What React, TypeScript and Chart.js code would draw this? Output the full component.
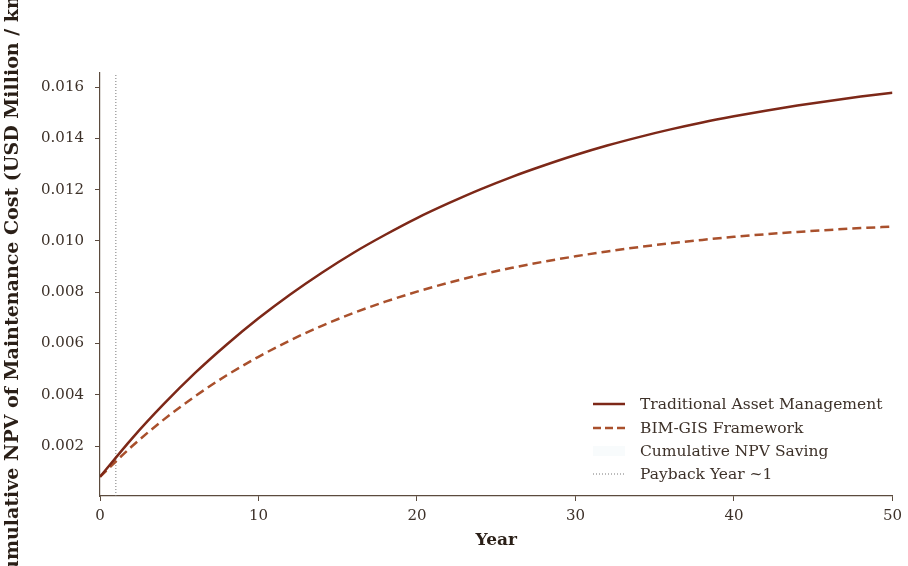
import { useEffect, useRef } from 'react';
import { Chart, registerables } from 'chart.js';

Chart.register(...registerables);

const years = [0, 2, 4, 6, 8, 10, 12, 14, 16, 18, 20, 22, 24, 26, 28, 30, 32, 34, 36, 38, 40, 42, 44, 46, 48, 50];
const traditional = [0.0008, 0.00228, 0.00362, 0.00485, 0.00596, 0.00698, 0.00791, 0.00876, 0.00954, 0.01024, 0.01089, 0.01147, 0.01201, 0.0125, 0.01294, 0.01335, 0.01372, 0.01405, 0.01435, 0.01462, 0.01486, 0.01508, 0.01528, 0.01546, 0.01563, 0.01578];
const bimGis = [0.0008, 0.00198, 0.00302, 0.00394, 0.00476, 0.00548, 0.00612, 0.00669, 0.00719, 0.00763, 0.00802, 0.00837, 0.00868, 0.00895, 0.00919, 0.0094, 0.00959, 0.00976, 0.00991, 0.01004, 0.01016, 0.01026, 0.01035, 0.01043, 0.0105, 0.01056];
const paybackYear = 1;
const yTicks = [0.002, 0.004, 0.006, 0.008, 0.01, 0.012, 0.014, 0.016];
const xTicks = [0, 10, 20, 30, 40, 50];
const Y_MIN = 0.00005;
const Y_MAX = 0.01655;

const legendLabels = ['Traditional Asset Management', 'BIM-GIS Framework', 'Cumulative NPV Saving', 'Payback Year ~1'];

const SOLID = '#7d2818';
const DASHED = '#a9502c';
const AXIS = '#5b4b3e';
const TEXT = '#3d3129';
const TITLE = '#2a1f17';
const SERIF = '"DejaVu Serif", serif';

const legendPlugin = {
  id: 'insideLegend',
  afterDraw(chart: any) {
    const ctx = chart.ctx;
    const x0 = 593;
    const x1 = 625;
    const tx = 640;
    const ys = [404, 428, 451, 474];
    ctx.save();
    ctx.font = `15.5px ${SERIF}`;
    ctx.fillStyle = TEXT;
    ctx.textBaseline = 'middle';
    ctx.textAlign = 'left';
    ctx.strokeStyle = SOLID;
    ctx.lineWidth = 2.5;
    ctx.setLineDash([]);
    ctx.beginPath(); ctx.moveTo(x0, ys[0]); ctx.lineTo(x1, ys[0]); ctx.stroke();
    ctx.strokeStyle = DASHED;
    ctx.setLineDash([8, 4]);
    ctx.beginPath(); ctx.moveTo(x0, ys[1]); ctx.lineTo(x1, ys[1]); ctx.stroke();
    ctx.setLineDash([]);
    ctx.fillStyle = 'rgba(190,215,230,0.10)';
    ctx.fillRect(x0, ys[2] - 5, x1 - x0, 10);
    ctx.strokeStyle = '#777';
    ctx.lineWidth = 1;
    ctx.setLineDash([1, 2]);
    ctx.beginPath(); ctx.moveTo(x0, ys[3]); ctx.lineTo(x1, ys[3]); ctx.stroke();
    ctx.setLineDash([]);
    ctx.fillStyle = TEXT;
    legendLabels.forEach((t, i) => ctx.fillText(t, tx, ys[i] + 1));
    ctx.restore();
  },
};

export default function App() {
  const ref = useRef<HTMLCanvasElement>(null);
  useEffect(() => {
    if (!ref.current) return;
    const chart = new Chart(ref.current, {
      type: 'line',
      data: {
        datasets: [
          {
            label: legendLabels[0],
            data: years.map((x, i) => ({ x, y: traditional[i] })),
            borderColor: SOLID,
            borderWidth: 2.5,
            pointRadius: 0,
            cubicInterpolationMode: 'monotone',
            fill: false,
          },
          {
            label: legendLabels[1],
            data: years.map((x, i) => ({ x, y: bimGis[i] })),
            borderColor: DASHED,
            borderWidth: 2.5,
            borderDash: [9, 5],
            pointRadius: 0,
            cubicInterpolationMode: 'monotone',
            fill: false,
          },
          {
            label: legendLabels[3],
            data: [{ x: paybackYear, y: Y_MIN }, { x: paybackYear, y: Y_MAX }],
            borderColor: '#777',
            borderWidth: 1,
            borderDash: [1, 2],
            pointRadius: 0,
            fill: false,
          },
        ],
      },
      options: {
        animation: false,
        responsive: false,
        maintainAspectRatio: false,
        layout: { padding: { left: 0, right: 13, top: 73, bottom: 0 } },
        plugins: { legend: { display: false }, tooltip: { enabled: false } },
        scales: {
          x: {
            type: 'linear',
            min: 0,
            max: 50,
            afterFit: (s: any) => { s.height = 70; },
            afterBuildTicks: (s: any) => { s.ticks = xTicks.map((v) => ({ value: v })); },
            grid: { display: true, drawOnChartArea: false, drawTicks: true, tickLength: 5, color: AXIS, lineWidth: 1 },
            border: { display: true, color: AXIS, width: 1.2 },
            ticks: { color: TEXT, font: { family: SERIF, size: 15 }, padding: 6, maxRotation: 0 },
            title: { display: true, text: 'Year', color: TITLE, font: { family: SERIF, size: 17, weight: 'bold' }, padding: { top: 2, bottom: 15 } },
          },
          y: {
            type: 'linear',
            min: Y_MIN,
            max: Y_MAX,
            afterFit: (s: any) => { s.width = 100; },
            afterBuildTicks: (s: any) => { s.ticks = yTicks.map((v) => ({ value: v })); },
            grid: { display: true, drawOnChartArea: false, drawTicks: true, tickLength: 5, color: AXIS, lineWidth: 1 },
            border: { display: true, color: AXIS, width: 1.2 },
            ticks: { color: TEXT, font: { family: SERIF, size: 15 }, padding: 11, callback: (v: any) => Number(v).toFixed(3) },
            title: { display: true, text: 'Cumulative NPV of Maintenance Cost (USD Million / km)', color: TITLE, font: { family: SERIF, size: 19, weight: 'bold' }, padding: { top: 2, bottom: 2 } },
          },
        },
      },
      plugins: [legendPlugin],
    });
    return () => chart.destroy();
  }, []);
  return (
    <div style={{ position: 'fixed', left: 0, top: 0, width: 908, height: 566, background: '#fff' }}>
      <canvas ref={ref} width={908} height={566} style={{ display: 'block' }} />
    </div>
  );
}
